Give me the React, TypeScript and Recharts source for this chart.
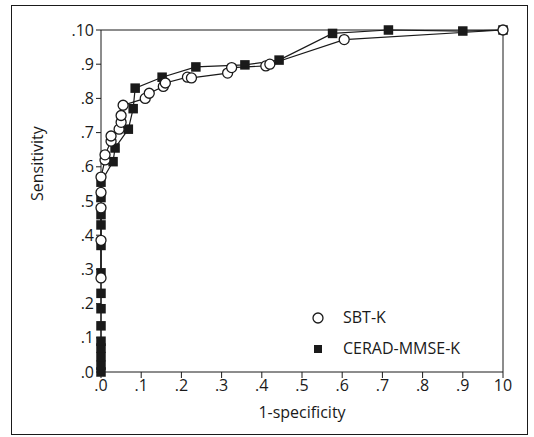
import React from 'react'
import {
  ScatterChart,
  Scatter,
  XAxis,
  YAxis,
  ReferenceLine,
} from 'recharts'

// SBT-K, open circles: [1-specificity, sensitivity]
const sbtX = [0, 0, 0, 0, 0, 0.01, 0.01, 0.025, 0.025, 0.045, 0.05, 0.05, 0.055, 0.11, 0.12, 0.155, 0.16, 0.215, 0.225, 0.315, 0.325, 0.41, 0.42, 0.605, 1.0]
const sbtY = [0.275, 0.385, 0.48, 0.525, 0.57, 0.62, 0.635, 0.675, 0.69, 0.71, 0.73, 0.75, 0.78, 0.8, 0.815, 0.835, 0.845, 0.862, 0.86, 0.874, 0.89, 0.895, 0.9, 0.972, 1.0]

// CERAD-MMSE-K, filled squares
const ceradX = [0, 0, 0, 0, 0, 0, 0, 0, 0, 0, 0, 0, 0, 0, 0.03, 0.035, 0.068, 0.08, 0.085, 0.152, 0.236, 0.358, 0.443, 0.576, 0.715, 0.9, 1.0]
const ceradY = [0, 0.02, 0.045, 0.07, 0.09, 0.135, 0.185, 0.23, 0.29, 0.37, 0.43, 0.46, 0.51, 0.555, 0.615, 0.655, 0.71, 0.77, 0.83, 0.862, 0.892, 0.898, 0.912, 0.99, 1.0, 0.997, 1.0]

const ticks = [0, 0.1, 0.2, 0.3, 0.4, 0.5, 0.6, 0.7, 0.8, 0.9, 1.0]
const xTickLabels = ['.0', '.1', '.2', '.3', '.4', '.5', '.6', '.7', '.8', '.9', '10']
const yTickLabels = ['.0', '.1', '.2', '.3', '.4', '.5', '.6', '.7', '.8', '.9', '.10']

const sbtData = sbtX.map((x, i) => ({ x, y: sbtY[i] }))
const ceradData = ceradX.map((x, i) => ({ x, y: ceradY[i] }))

const INK = '#1a1a1a'
const FONT = '"Open Sans", sans-serif'

const OpenCircle = (props: any) => (
  <circle cx={props.cx} cy={props.cy} r={5} fill="#fff" stroke={INK} strokeWidth={1.3} />
)
const FilledSquare = (props: any) => (
  <rect x={props.cx - 4.75} y={props.cy - 4.75} width={9.5} height={9.5} fill={INK} />
)

const LegendBox = () => (
  <div style={{ position: 'absolute', left: 310, top: 302, fontFamily: FONT, fontSize: 16, color: INK, lineHeight: '31px' }}>
    <div style={{ display: 'flex', alignItems: 'center' }}>
      <svg width={33} height={12}><circle cx={8} cy={6} r={5} fill="#fff" stroke={INK} strokeWidth={1.3} /></svg>
      <span>SBT-K</span>
    </div>
    <div style={{ display: 'flex', alignItems: 'center' }}>
      <svg width={33} height={12}><rect x={4} y={2} width={8} height={8} fill={INK} /></svg>
      <span>CERAD-MMSE-K</span>
    </div>
  </div>
)

const App = () => {
  const fmtX = (v: number) => xTickLabels[Math.round(v * 10)]
  const fmtY = (v: number) => yTickLabels[Math.round(v * 10)]
  return (
    <div style={{ position: 'absolute', left: 0, top: 0, width: 534, height: 437, background: '#fff' }}>
      <div style={{ position: 'absolute', left: 11, top: 5, width: 515, height: 428, border: `1.5px solid ${INK}` }} />
      <div style={{ position: 'absolute', left: 0, top: 0 }}>
        <ScatterChart width={534} height={437} margin={{ top: 30, right: 31, bottom: 15, left: 31 }}>
          <XAxis
            type="number"
            dataKey="x"
            domain={[0, 1]}
            ticks={ticks}
            tickFormatter={fmtX}
            interval={0}
            height={50}
            stroke={INK}
            tickSize={6}
            tick={{ fill: INK, fontSize: 16, fontFamily: FONT }}
            label={{ value: '1-specificity', position: 'insideBottom', offset: 4, fill: INK, fontSize: 16, fontFamily: FONT }}
          />
          <YAxis
            type="number"
            dataKey="y"
            domain={[0, 1]}
            ticks={ticks}
            tickFormatter={fmtY}
            interval={0}
            width={70}
            stroke={INK}
            tickSize={5}
            tick={{ fill: INK, fontSize: 16, fontFamily: FONT }}
            label={{ value: 'Sensitivity', angle: -90, position: 'insideLeft', offset: 6, fill: INK, fontSize: 16, fontFamily: FONT }}
          />
          <ReferenceLine y={1} stroke={INK} />
          <ReferenceLine x={1} stroke={INK} />
          <Scatter name="CERAD-MMSE-K" data={ceradData} line={{ stroke: INK, strokeWidth: 1.2 }} shape={FilledSquare} isAnimationActive={false} />
          <Scatter name="SBT-K" data={sbtData} line={{ stroke: INK, strokeWidth: 1.2 }} shape={OpenCircle} isAnimationActive={false} />
        </ScatterChart>
      </div>
      <LegendBox />
    </div>
  )
}

export default App
